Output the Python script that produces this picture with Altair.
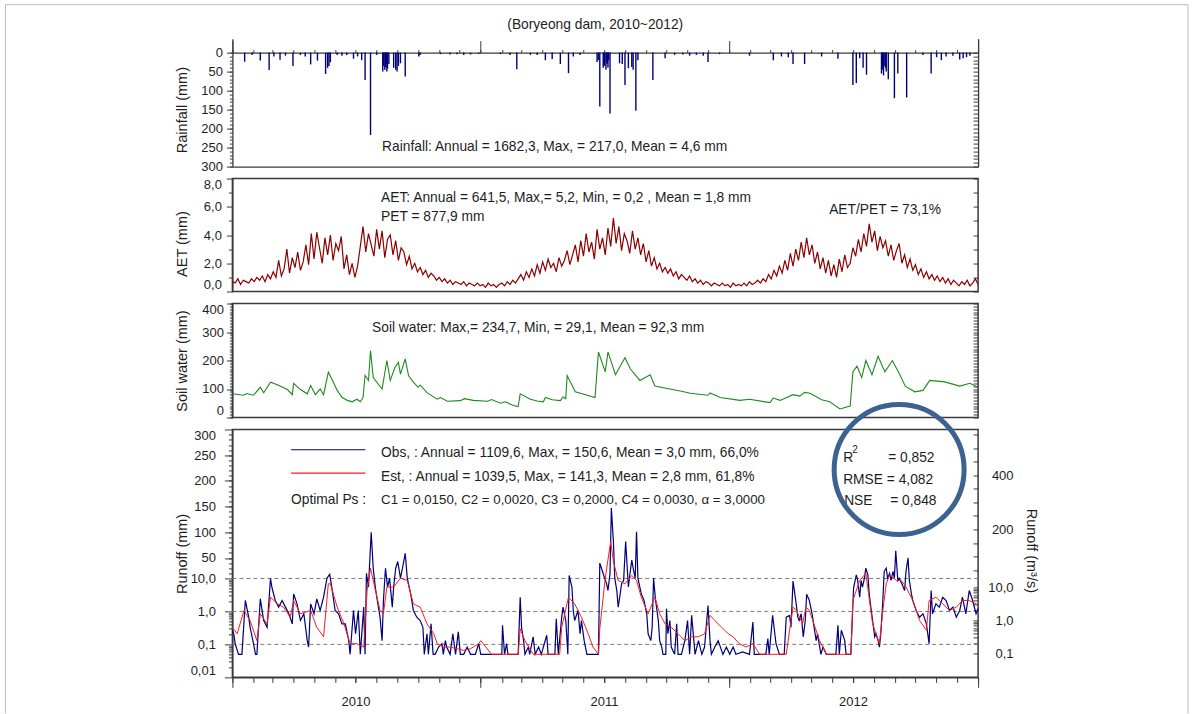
import math
import altair as alt
import pandas as pd

# ------------------------------------------------------------------ data
TITLE = "(Boryeong dam, 2010~2012)"

# rainfall events: (day since 2010-01-01, mm)
RAIN = [(18, 24), (29, 6), (41, 21), (54, 46), (61, 10), (70, 19), (78, 8), (89, 35), (100, 6),
        (107, 10), (115, 31), (125, 21), (137, 56), (140, 40), (142, 35), (144, 25), (154, 6),
        (161, 8), (168, 6), (178, 16), (184, 10), (190, 20), (195, 72), (203, 217), (212, 6),
        (221, 50), (222, 35), (224, 45), (225, 38), (226, 30), (227, 50), (228, 42), (230, 30),
        (237, 40), (240, 45), (242, 50), (244, 35), (247, 28), (254, 63), (274, 10), (276, 6),
        (306, 4), (320, 5), (330, 4), (340, 6), (350, 5), (362, 3), (394, 4), (408, 6), (418, 44),
        (438, 6), (448, 6), (460, 20), (470, 17), (482, 30), (494, 54), (501, 10), (511, 6),
        (536, 25), (538, 20), (540, 142), (545, 40), (546, 30), (547, 35), (549, 45), (550, 25),
        (551, 30), (552, 40), (553, 20), (555, 160), (569, 28), (573, 30), (577, 85), (582, 41),
        (587, 38), (589, 45), (593, 153), (596, 20), (618, 72), (636, 15), (650, 6), (662, 5),
        (672, 8), (682, 6), (692, 8), (699, 25), (716, 4), (760, 8), (795, 20), (807, 10),
        (817, 12), (824, 30), (841, 30), (866, 10), (890, 16), (912, 85), (917, 80), (922, 15),
        (927, 40), (932, 58), (954, 55), (955, 40), (956, 45), (957, 60), (959, 35), (960, 40),
        (961, 50), (964, 70), (973, 120), (978, 55), (991, 118), (1015, 6), (1027, 55),
        (1035, 12), (1042, 20), (1049, 10), (1059, 8), (1069, 18), (1074, 15), (1079, 12),
        (1084, 8)]

# actual evapotranspiration, one reading every 4 days from 2010-01-01 (mm)
AET_STEP_DAYS = 4
AET_MM = [
    0.7, 0.6, 0.9, 0.5, 0.8, 0.7, 0.6, 0.9, 0.7, 1.0,
    0.8, 1.1, 0.7, 1.2, 0.9, 1.4, 1.0, 2.2, 1.1, 1.6,
    3.0, 1.3, 2.4, 1.7, 2.8, 1.5, 2.1, 3.3, 1.9, 4.1,
    2.3, 4.2, 3.1, 2.0, 3.8, 2.6, 4.0, 2.2, 3.4, 2.9,
    3.9, 1.6, 2.6, 1.2, 2.0, 1.0, 1.8, 3.2, 4.6, 2.8,
    4.1, 3.3, 2.5, 4.4, 3.0, 4.3, 2.4, 3.7, 4.0, 2.6,
    3.6, 2.2, 3.1, 2.8, 1.9, 2.5, 1.6, 2.0, 1.4, 1.7,
    1.2, 1.5, 1.0, 1.3, 1.1, 0.8, 1.0, 0.7, 0.9, 0.6,
    0.8, 0.5, 0.7, 0.6, 0.5, 0.7, 0.4, 0.6, 0.5, 0.4,
    0.6, 0.4, 0.5, 0.3, 0.6, 0.4, 0.5, 0.3, 0.5, 0.6,
    0.4, 0.7, 0.5, 0.8, 0.6, 0.9, 1.2, 0.8, 1.4, 1.0,
    1.6, 1.1, 1.9, 1.3, 2.1, 1.5, 2.3, 1.7, 2.0, 1.4,
    2.4, 1.8, 2.2, 2.9, 1.9, 2.6, 3.3, 2.1, 3.6, 2.5,
    4.1, 2.8, 3.5, 2.3, 4.4, 3.0, 3.8, 2.6, 4.5, 3.2,
    5.2, 3.4, 4.6, 2.9, 4.1, 3.6, 2.7, 4.3, 3.0, 3.8,
    2.6, 3.4, 2.1, 2.9, 1.8, 2.4, 1.6, 2.0, 1.4, 1.7,
    1.3, 1.6, 1.1, 1.4, 0.9, 1.2, 1.0, 0.8, 1.1, 0.7,
    0.9, 0.6, 0.8, 0.5, 0.7, 0.6, 0.4, 0.6, 0.5, 0.4,
    0.6, 0.4, 0.5, 0.3, 0.6, 0.4, 0.5, 0.4, 0.6, 0.4,
    0.7, 0.5, 0.6, 0.8, 0.6, 0.9, 0.7, 1.2, 0.9, 1.5,
    1.1, 1.8, 1.3, 2.2, 1.5, 2.7, 1.8, 3.0, 2.2, 3.5,
    2.4, 3.8, 2.6, 3.3, 2.0, 2.8, 1.6, 2.4, 1.3, 2.2,
    1.1, 1.9, 1.0, 2.3, 1.4, 2.6, 1.7, 2.0, 3.1, 2.5,
    3.7, 2.8, 4.1, 3.2, 4.8, 3.5, 4.3, 2.9, 3.9, 3.1,
    3.6, 2.5, 3.3, 2.2, 2.9, 3.4, 2.0, 2.6, 1.7, 2.3,
    1.5, 1.9, 1.2, 1.6, 1.0, 1.4, 0.9, 1.2, 0.8, 1.1,
    0.7, 1.0, 0.6, 0.9, 0.5, 0.8, 0.6, 0.4, 0.7, 0.5,
    0.8, 0.4, 0.6, 0.9, 0.5]

# soil water storage: (day, mm)
SOIL = [(0, 83), (16, 78), (21, 84), (31, 78), (41, 106), (46, 87), (56, 124), (66, 115),
        (81, 98), (88, 80), (90, 120), (100, 98), (110, 83), (115, 112), (122, 80), (129, 100),
        (134, 80), (141, 159), (146, 136), (154, 95), (161, 71), (169, 60), (176, 55), (183, 64),
        (188, 55), (192, 70), (195, 148), (200, 130), (203, 235), (207, 140), (220, 100),
        (227, 200), (232, 130), (239, 176), (244, 193), (247, 152), (254, 206), (259, 146),
        (266, 124), (273, 106), (276, 114), (286, 87), (301, 64), (306, 70), (316, 57),
        (335, 59), (341, 66), (354, 60), (375, 57), (381, 63), (394, 50), (401, 55), (413, 42),
        (420, 38), (423, 83), (438, 64), (448, 58), (457, 55), (460, 70), (470, 62), (482, 59),
        (486, 72), (490, 66), (492, 147), (504, 90), (519, 80), (533, 70), (538, 230),
        (548, 160), (552, 230), (563, 150), (577, 210), (585, 170), (599, 130), (614, 150),
        (621, 110), (643, 100), (660, 92), (673, 85), (699, 78), (702, 86), (717, 70),
        (746, 60), (760, 64), (790, 52), (795, 68), (805, 60), (824, 80), (834, 75), (841, 88),
        (849, 85), (866, 62), (878, 55), (893, 30), (908, 40), (912, 160), (918, 180),
        (925, 140), (931, 200), (940, 150), (949, 215), (959, 160), (970, 200), (981, 150),
        (989, 110), (1003, 90), (1015, 95), (1025, 130), (1047, 125), (1069, 110), (1084, 120),
        (1096, 105)]

# observed runoff: (day, mm)
OBS = [(0, 0.27), (2, 0.21), (4, 0.105), (9, 0.05), (14, 0.05), (19, 2.15), (24, 0.67), (26, 0.33),
       (31, 0.105), (34, 0.05), (36, 0.05), (41, 2.4), (46, 0.53), (51, 0.33), (56, 10), (58, 5.5),
       (63, 2.15), (68, 1.35), (73, 2.15), (78, 1.35), (83, 0.85), (88, 0.42), (90, 3.4), (95, 1.7),
       (100, 0.53), (105, 0.85), (110, 0.13), (112, 0.083), (115, 1.7), (120, 0.85), (124, 2.4),
       (129, 1.07), (134, 2.7), (139, 10.6), (143, 18), (146, 5.5), (151, 1.07), (156, 0.85),
       (161, 0.42), (166, 0.42), (171, 0.13), (173, 0.05), (178, 1.07), (181, 0.21), (185, 1.07),
       (188, 0.05), (193, 1.35), (195, 0.05), (197, 20), (200, 5.5), (204, 100), (207, 30),
       (210, 5.5), (213, 2.15), (217, 0.67), (220, 0.13), (222, 2.15), (225, 30), (228, 5.5),
       (231, 10.6), (235, 1.35), (237, 5.5), (240, 30), (243, 43), (247, 10.6), (250, 30),
       (254, 59), (257, 10.6), (262, 3.4), (266, 1.07), (271, 0.67), (276, 0.53), (280, 0.33),
       (282, 0.05), (286, 0.21), (288, 0.05), (292, 0.42), (295, 0.05), (298, 0.05), (303, 0.083),
       (308, 0.105), (310, 0.05), (313, 0.13), (315, 0.083), (320, 0.05), (324, 0.21), (328, 0.05),
       (332, 0.24), (335, 0.05), (340, 0.05), (345, 0.083), (350, 0.05), (357, 0.05), (362, 0.105),
       (365, 0.05), (396, 0.05), (397, 0.38), (400, 0.05), (403, 0.105), (405, 0.05), (420, 0.05),
       (423, 2.7), (425, 0.33), (428, 0.13), (430, 0.05), (435, 0.083), (437, 0.05), (442, 0.17),
       (445, 0.05), (450, 0.083), (454, 0.05), (462, 0.19), (464, 0.05), (474, 0.05), (476, 0.6),
       (479, 0.05), (484, 0.67), (486, 1.35), (490, 0.53), (493, 0.05), (495, 15.8), (499, 5.5),
       (501, 1.07), (503, 0.53), (508, 1.07), (511, 0.21), (513, 0.53), (517, 0.13), (521, 0.05),
       (538, 0.05), (540, 40), (544, 23.6), (547, 10.6), (550, 6.9), (552, 4.3), (555, 20),
       (557, 147), (560, 82), (562, 10.6), (565, 4.3), (567, 1.35), (570, 3.4), (572, 6.9),
       (575, 8.7), (578, 82), (582, 5.5), (584, 15.8), (587, 46), (589, 30), (592, 10.6),
       (594, 101), (596, 10.6), (601, 3.4), (605, 2.15), (609, 0.85), (611, 0.21), (615, 0.13),
       (617, 0.33), (619, 10.6), (622, 2.15), (626, 0.53), (628, 0.13), (631, 0.083), (633, 0.05),
       (637, 0.05), (638, 1.2), (640, 0.21), (643, 0.53), (645, 0.083), (650, 0.05), (653, 0.42),
       (655, 0.05), (660, 0.05), (665, 0.13), (669, 0.53), (672, 0.05), (675, 0.76), (680, 0.05),
       (685, 0.13), (690, 0.05), (694, 0.083), (699, 1.5), (702, 0.13), (704, 0.05), (709, 0.083),
       (714, 0.13), (721, 0.05), (726, 0.083), (731, 0.05), (736, 0.083), (740, 0.05),
       (750, 0.059), (760, 0.05), (765, 0.48), (767, 0.05), (784, 0.05), (787, 0.15), (789, 0.05),
       (794, 0.76), (799, 0.105), (804, 0.05), (811, 0.05), (814, 0.67), (819, 0.76), (821, 0.33),
       (824, 8.3), (828, 2.15), (831, 0.67), (833, 0.53), (836, 0.85), (839, 0.17), (842, 0.53),
       (844, 3.3), (848, 2.15), (852, 0.85), (855, 0.33), (858, 0.13), (860, 0.21), (865, 0.05),
       (868, 0.083), (873, 0.05), (887, 0.05), (890, 0.38), (892, 0.05), (895, 0.27), (900, 0.13),
       (902, 0.05), (909, 0.05), (913, 5.2), (917, 17), (919, 8.7), (922, 2.7), (924, 8.7),
       (926, 5.5), (929, 10.6), (931, 30), (934, 17), (936, 3.4), (939, 1.07), (941, 0.53),
       (944, 0.17), (946, 0.21), (949, 0.13), (951, 0.083), (953, 0.21), (956, 2.15), (958, 23.6),
       (961, 30), (963, 10.6), (966, 20), (968, 8.7), (971, 23.6), (973, 10.6), (975, 64),
       (978, 8.7), (980, 10.6), (984, 6.9), (988, 4.3), (990, 23.6), (993, 50), (995, 8.7),
       (998, 3.4), (1000, 2.15), (1005, 1.07), (1010, 0.67), (1015, 0.85), (1020, 0.42),
       (1024, 0.105), (1027, 4.3), (1029, 0.85), (1034, 1.7), (1039, 1.35), (1044, 2.7),
       (1049, 2.15), (1054, 1.07), (1059, 1.35), (1064, 0.67), (1069, 1.07), (1073, 2.7),
       (1078, 0.85), (1083, 4.3), (1088, 2.15), (1093, 0.85), (1096, 1.2)]

# estimated runoff: (day, mm)
EST = [(0, 0.33), (7, 0.21), (17, 1.07), (26, 0.53), (36, 0.13), (41, 0.85), (51, 0.42), (56, 2.7),
       (66, 1.7), (75, 1.35), (85, 0.67), (90, 2.15), (100, 0.85), (115, 1.07), (124, 0.33),
       (134, 0.17), (141, 6.9), (144, 6.9), (154, 1.35), (164, 0.42), (173, 0.105), (183, 0.105),
       (193, 0.083), (198, 4.3), (203, 30), (208, 6.9), (217, 1.07), (222, 0.85), (227, 5.5),
       (237, 5.5), (247, 10.6), (257, 8.7), (266, 1.7), (276, 1.35), (286, 0.42), (296, 0.21),
       (301, 0.105), (310, 0.083), (320, 0.083), (340, 0.066), (350, 0.074), (362, 0.105),
       (365, 0.13), (381, 0.05), (420, 0.05), (423, 0.3), (430, 0.13), (437, 0.074), (442, 0.05),
       (481, 0.05), (484, 0.33), (494, 2.7), (503, 1.7), (513, 0.67), (523, 0.21), (530, 0.083),
       (538, 0.05), (540, 0.3), (548, 10.6), (556, 82), (560, 43), (567, 8.7), (577, 6.9),
       (587, 15.8), (594, 8.7), (601, 2.7), (611, 0.85), (621, 2.7), (628, 0.85), (636, 0.42),
       (645, 0.33), (655, 0.21), (665, 0.13), (675, 0.17), (685, 0.17), (694, 0.21), (702, 0.76),
       (709, 0.53), (719, 0.33), (729, 0.21), (736, 0.17), (745, 0.105), (755, 0.083),
       (765, 0.105), (775, 0.05), (814, 0.05), (819, 0.27), (824, 1.35), (829, 1.07), (838, 0.42),
       (843, 1.35), (848, 1.07), (853, 0.53), (863, 0.13), (873, 0.05), (909, 0.05), (912, 2.15),
       (922, 8.7), (931, 20), (941, 0.42), (951, 0.105), (956, 1.07), (961, 6.9), (966, 17),
       (976, 8.7), (983, 8.7), (990, 5.5), (1000, 2.15), (1010, 0.53), (1020, 0.27),
       (1024, 2.15), (1034, 2.7), (1044, 1.7), (1054, 1.07), (1064, 1.35), (1073, 2.15),
       (1083, 2.15), (1093, 1.7), (1096, 1.6)]

GRID_MM = [0.1, 1.0, 10.0]
RUN_MAJOR_MM = [0.01, 0.1, 1, 10, 50, 100, 150, 200, 250, 300]
RUN_MAJOR_LABELS = ["0,01", "0,1", "1,0", "10,0", "50", "100", "150", "200", "250", "300"]
CMS_MAJOR = [0.1, 1.0, 10.0, 200, 400]
CMS_LABELS = ["0,1", "1,0", "10,0", "200", "400"]
YEAR_LABELS = ["2010", "2011", "2012"]

TXT_RAIN = "Rainfall: Annual = 1682,3, Max, = 217,0, Mean = 4,6 mm"
TXT_AET1 = "AET: Annual = 641,5, Max,= 5,2, Min, = 0,2 , Mean = 1,8 mm"
TXT_AET2 = "PET = 877,9 mm"
TXT_AET3 = "AET/PET = 73,1%"
TXT_SOIL = "Soil water:  Max,= 234,7, Min, = 29,1, Mean = 92,3 mm"
TXT_OBS = "Obs, : Annual = 1109,6, Max, = 150,6, Mean = 3,0 mm, 66,0%"
TXT_EST = "Est, : Annual = 1039,5, Max, = 141,3, Mean = 2,8 mm, 61,8%"
TXT_OPT1 = "Optimal Ps :"
TXT_OPT2 = "C1 = 0,0150, C2 = 0,0020, C3 = 0,2000, C4 = 0,0030, \u03b1 = 3,0000"

# ------------------------------------------------------------------ layout / style
FONT = "Liberation Sans"
FS = 13.8
INK = "#1e1e1e"
FRAME = "#3a3a3a"
NAVY = "#00007a"
RED = "#ff1a1a"
W = 746
H_RAIN, H_AET, H_SOIL, H_RUN = 128, 113, 114, 248
GAP = 12
N_DAYS = 1096
RAIN_TOP, RAIN_MAX = -36.8, 300
T_MIN, T_MAX = -2.0, 5.52
LIN_MM_PER_UNIT = 64.2               # runoff axis is linear above 10 mm
CMS_TO_MM = 86400 / 163.6e6 * 1000   # 1 m3/s over the catchment, in mm/day
TITLE_X = -50

START = pd.Timestamp("2010-01-01")
MONTH_DAYS = [(pd.Timestamp(y, m, 1) - START).days for y in (2010, 2011, 2012) for m in range(1, 13)] + [N_DAYS]
YEAR_DAYS = [0, 365, 730, N_DAYS]
YEAR_LABEL_DAYS = [(pd.Timestamp(int(y), 7, 1) - START).days for y in YEAR_LABELS]


def to_t(v):
    return math.log10(v) if v <= 10 else 1 + (v - 10) / LIN_MM_PER_UNIT


T_EXPR = f"datum.q <= 10 ? log(datum.q) / LN10 : 1 + (datum.q - 10) / {LIN_MM_PER_UNIT}"


def label_expr(vals, labels, tol=1e-3):
    expr = "''"
    for v, l in reversed(list(zip(vals, labels))):
        expr = f"abs(datum.value - ({v:.6f})) < {tol} ? '{l}' : ({expr})"
    return expr


def one():
    return alt.Chart(alt.Data(values=[{}]))


def text(t, x, y, align="left", size=FS):
    return one().mark_text(text=t, x=x, y=y, align=align, baseline="middle",
                           font=FONT, fontSize=size, color=INK)


def seg(x, x2, y, y2, color, width=1.0):
    return one().mark_rule(color=color, strokeWidth=width).encode(
        x=alt.value(x), x2=alt.value(x2), y=alt.value(y), y2=alt.value(y2))


X_SCALE = alt.Scale(domain=[0, N_DAYS], nice=False, zero=False)


def X(axis=None):
    return alt.X("day:Q", scale=X_SCALE, axis=axis)


def holder(df, field, scale, y_axis, x_axis=None, calc=False):
    base = alt.Chart(df)
    if calc:
        base = base.transform_calculate(t=T_EXPR)
    return base.mark_point(opacity=0).encode(x=X(x_axis), y=alt.Y(field, scale=scale, axis=y_axis))


def minor_left(values, size=3):
    return alt.Axis(orient="left", values=values, tickSize=size, labels=False, domain=False, title=None)


def inward_right(values):
    return alt.Axis(orient="right", offset=-5, values=values, tickSize=5, labels=False,
                    domain=False, title=None)


def major_left(values, label_ex, title, title_y, pad, size=6, flush=True):
    kw = dict(orient="left", values=values, labelExpr=label_ex, tickSize=size,
              labelPadding=pad, title=title, titleAngle=270, titleX=TITLE_X, titleY=title_y,
              titleAlign="center", titleBaseline="middle", labelOverlap=False, domain=True)
    if flush:
        kw["labelFlush"] = 2
    return alt.Axis(**kw)


# ------------------------------------------------------------------ frames
rain_df = pd.DataFrame(RAIN, columns=["day", "mm"])
aet_df = pd.DataFrame({"day": [i * AET_STEP_DAYS for i in range(len(AET_MM))], "mm": AET_MM})
soil_df = pd.DataFrame(SOIL, columns=["day", "mm"])
obs_df = pd.DataFrame(OBS, columns=["day", "q"])
est_df = pd.DataFrame(EST, columns=["day", "q"])
grid_df = pd.DataFrame({"q": GRID_MM})

# ------------------------------------------------------------------ rainfall panel
RAIN_Y = alt.Scale(domain=[RAIN_TOP, RAIN_MAX], reverse=True, nice=False, zero=False)
rain_major = list(range(0, RAIN_MAX + 1, 50))
rain_minor = list(range(0, RAIN_MAX + 1, 10))
zero_px = H_RAIN * (0 - RAIN_TOP) / (RAIN_MAX - RAIN_TOP)

rain_bars = alt.Chart(rain_df).mark_rule(color=NAVY, strokeWidth=1.4).encode(
    x=X(alt.Axis(orient="bottom", labels=False, ticks=False, domain=True, title=None)),
    y=alt.Y("mm:Q", scale=RAIN_Y,
            axis=major_left(rain_major, "format(datum.value, 'd')", "Rainfall (mm)", 71, 4,
                            flush=False)),
    y2=alt.datum(0),
)
rain_panel = alt.layer(
    rain_bars,
    holder(rain_df, "mm:Q", RAIN_Y, minor_left(rain_minor),
           alt.Axis(orient="top", offset=-zero_px, values=YEAR_DAYS, tickSize=12, labels=False,
                    domain=True, title=None)),
    holder(rain_df, "mm:Q", RAIN_Y, inward_right(rain_minor),
           alt.Axis(orient="top", offset=-zero_px, values=MONTH_DAYS, tickSize=3, labels=False,
                    domain=False, title=None)),
    holder(rain_df, "mm:Q", RAIN_Y, alt.Axis(orient="right", ticks=False, labels=False,
                                             domain=True, title=None)),
    text(TXT_RAIN, 149.7, 108),
    text(TITLE, 363, -13.5, align="center"),
    seg(-227, 956, -34, -34, "#bdbdbd"),
    seg(-227, -227, -34, 675, "#bdbdbd"),
    seg(956, 956, -34, 675, "#bdbdbd"),
).resolve_axis(x="independent", y="independent").properties(
    width=W, height=H_RAIN, view=alt.ViewBackground(strokeOpacity=0))

# ------------------------------------------------------------------ AET panel
AET_Y = alt.Scale(domain=[0, 8], nice=False, zero=False)
aet_line = alt.Chart(aet_df).mark_line(color="#8b0000", strokeWidth=1.2).encode(
    x=X(None),
    y=alt.Y("mm:Q", scale=AET_Y,
            axis=major_left([0, 2, 4, 6, 8], "replace(format(datum.value, '.1f'), '.', ',')",
                            "AET (mm)", 65, 5)),
)
aet_panel = alt.layer(
    aet_line,
    holder(aet_df, "mm:Q", AET_Y, minor_left([1, 3, 5, 7], 4)),
    holder(aet_df, "mm:Q", AET_Y, inward_right(list(range(0, 9)))),
    text(TXT_AET1, 148.7, 19.3), text(TXT_AET2, 148.7, 38.7), text(TXT_AET3, 597, 31),
).resolve_axis(x="independent", y="independent").properties(width=W, height=H_AET)

# ------------------------------------------------------------------ soil water panel
SOIL_Y = alt.Scale(domain=[0, 400], nice=False, zero=False)
soil_minor = list(range(0, 401, 10))
soil_line = alt.Chart(soil_df).mark_line(color="#1d8a1d", strokeWidth=1.1).encode(
    x=X(None),
    y=alt.Y("mm:Q", scale=SOIL_Y,
            axis=major_left(list(range(0, 401, 100)), "format(datum.value, 'd')",
                            "Soil water (mm)", 57, 3)),
)
soil_panel = alt.layer(
    soil_line,
    holder(soil_df, "mm:Q", SOIL_Y, minor_left(soil_minor)),
    holder(soil_df, "mm:Q", SOIL_Y, inward_right(soil_minor)),
    text(TXT_SOIL, 139.7, 24.3),
).resolve_axis(x="independent", y="independent").properties(width=W, height=H_SOIL)

# ------------------------------------------------------------------ runoff panel
RUN_Y = alt.Scale(domain=[T_MIN, T_MAX], nice=False, zero=False)
run_minor_mm = [k * 10 ** e for e in (-2, -1, 0) for k in range(2, 10)] + list(range(20, 300, 10))
run_major_t = [to_t(v) for v in RUN_MAJOR_MM]
run_minor_t = [to_t(v) for v in run_minor_mm]
cms_major_t = [to_t(v * CMS_TO_MM) for v in CMS_MAJOR]
cms_minor = [k * 10 ** e for e in (-1, 0) for k in range(1, 10)] + [10] + list(range(50, 551, 50))
cms_minor_t = [to_t(v * CMS_TO_MM) for v in cms_minor]

run_left = major_left(run_major_t, label_expr(run_major_t, RUN_MAJOR_LABELS), "Runoff (mm)", 124, 9, size=8)
run_right = alt.Axis(orient="right", values=cms_major_t,
                     labelExpr=label_expr(cms_major_t, CMS_LABELS), ticks=False, domain=False,
                     labelAlign="right", labelPadding=35, labelOverlap=False,
                     title="Runoff (m\u00b3/s)", titleAngle=90, titleX=52, titleY=121,
                     titleAlign="center", titleBaseline="middle")
year_label_x = alt.Axis(orient="bottom", values=YEAR_LABEL_DAYS, tickSize=5,
                        labelExpr=label_expr(YEAR_LABEL_DAYS, YEAR_LABELS), labelPadding=13,
                        labelOverlap=False, domain=True, title=None, labelFontSize=13)
month_x = alt.Axis(orient="bottom", values=MONTH_DAYS, tickSize=5, labels=False, domain=False, title=None)
year_x = alt.Axis(orient="bottom", values=YEAR_DAYS, tickSize=10, labels=False, domain=False, title=None)

grid = alt.Chart(grid_df).transform_calculate(t=T_EXPR).mark_rule(
    color="#7a7a7a", strokeDash=[4, 3], strokeWidth=1).encode(
    y=alt.Y("t:Q", scale=RUN_Y, axis=run_right))
est_line = alt.Chart(est_df).transform_calculate(t=T_EXPR).mark_line(
    color=RED, strokeWidth=1).encode(
    x=X(None), y=alt.Y("t:Q", scale=RUN_Y, axis=None))
obs_line = alt.Chart(obs_df).transform_calculate(t=T_EXPR).mark_line(
    color=NAVY, strokeWidth=1.2).encode(
    x=X(year_label_x), y=alt.Y("t:Q", scale=RUN_Y, axis=run_left))

circle = one().mark_point(shape="circle", size=16900, x=667, y=40, filled=False,
                          color="#3b6290", strokeWidth=5, opacity=1)

run_panel = alt.layer(
    grid,
    holder(grid_df, "t:Q", RUN_Y, inward_right(cms_minor_t), calc=True),
    holder(grid_df, "t:Q", RUN_Y, minor_left(run_minor_t, 4), month_x, calc=True),
    holder(grid_df, "t:Q", RUN_Y, None, year_x, calc=True),
    obs_line, est_line,
    seg(58.7, 133, 20.3, 20.3, NAVY, 1.2), seg(58.7, 133, 43.7, 43.7, RED, 1.2),
    text(TXT_OBS, 148.7, 23.3), text(TXT_EST, 148.7, 47.7),
    text(TXT_OPT1, 58.7, 71), text(TXT_OPT2, 148.7, 71, size=13.3),
    text("R", 611, 29), text("2", 620, 21, size=10), text("= 0,852", 656, 29),
    text("RMSE = 4,082", 611, 51), text("NSE", 612, 72), text("= 0,848", 658, 72),
    circle,
).resolve_axis(x="independent", y="independent").properties(width=W, height=H_RUN)

# ------------------------------------------------------------------ assemble
chart = alt.vconcat(rain_panel, aet_panel, soil_panel, run_panel, spacing=GAP, bounds="flush").properties(
    padding={"left": 4.5, "top": 3.5, "right": 5, "bottom": 0}
).configure_view(stroke=FRAME, strokeWidth=1.5).configure_axis(
    labelFont=FONT, titleFont=FONT, labelFontSize=13, titleFontSize=14.5, titleFontWeight="normal",
    labelColor=INK, titleColor=INK, domainColor=FRAME, tickColor=FRAME, domainWidth=1.3,
    tickWidth=1, grid=False,
)

chart.save("out.html", embed_options={"renderer": "svg", "actions": False})
